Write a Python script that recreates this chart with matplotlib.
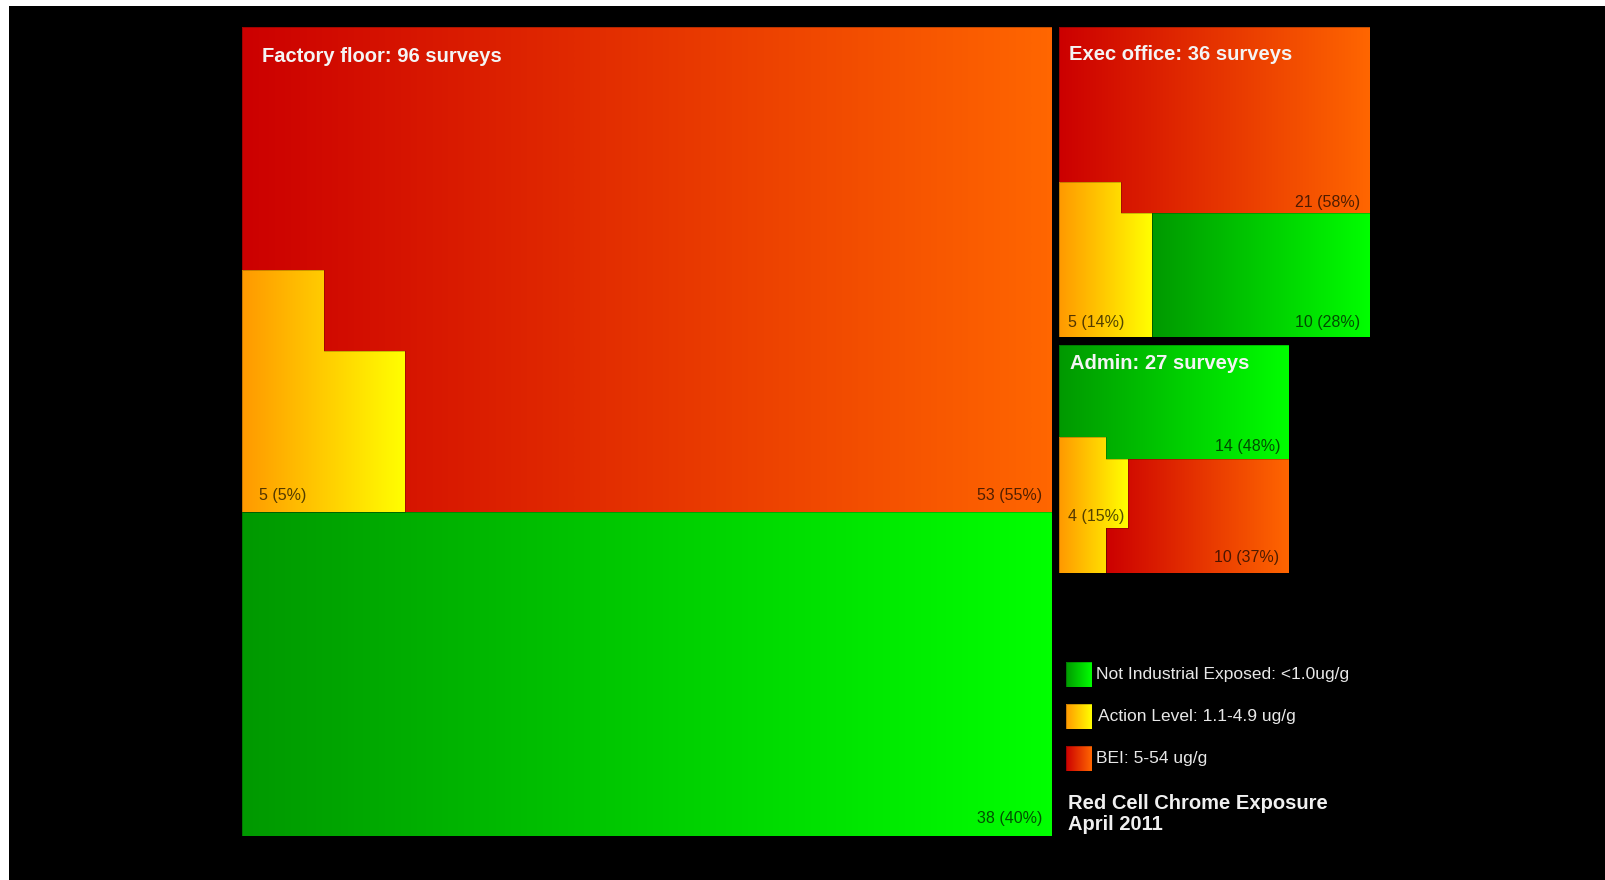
import numpy as np
import matplotlib
matplotlib.use("Agg")
import matplotlib.pyplot as plt
from matplotlib.patches import Rectangle, Polygon
from matplotlib.colors import LinearSegmentedColormap

plt.rcParams['font.family'] = ['Liberation Sans', 'DejaVu Sans']

# survey counts per work area
areas = ["Factory floor", "Exec office", "Admin"]
surveys = [96, 36, 27]
not_exposed = [38, 10, 14]
not_exposed_pct = [40, 28, 48]
action_level = [5, 5, 4]
action_level_pct = [5, 14, 15]
bei = [53, 21, 10]
bei_pct = [55, 58, 37]

legend_labels = ["Not Industrial Exposed: <1.0ug/g",
                 "Action Level: 1.1-4.9 ug/g",
                 "BEI: 5-54 ug/g"]
chart_title = "Red Cell Chrome Exposure\nApril 2011"

# gradients go dark (left) -> bright (right)
GRADIENTS = {
    "green": ("#009900", "#00ff00"),
    "yellow": ("#ff9900", "#ffff00"),
    "red": ("#cc0000", "#ff6600"),
}

W, H = 1606, 880

# panel boxes (x, y, w, h) on the canvas, top-left origin
panels = [(242, 27, 810, 809), (1059, 27, 311, 310), (1059, 345, 230, 228)]

# shapes inside each panel, in panel fractions
shapes = [
    {"red": [(0, 0), (1, 0), (1, 0.6), (0, 0.6)],
     "green": [(0, 0.6), (1, 0.6), (1, 1), (0, 1)],
     "yellow": [(0, 0.30), (0.101, 0.30), (0.101, 0.40), (0.201, 0.40),
                (0.201, 0.6), (0, 0.6)]},
    {"red": [(0, 0), (1, 0), (1, 0.6), (0, 0.6)],
     "green": [(0.299, 0.6), (1, 0.6), (1, 1), (0.299, 1)],
     "yellow": [(0, 0.5), (0.199, 0.5), (0.199, 0.6), (0.299, 0.6),
                (0.299, 1), (0, 1)]},
    {"green": [(0, 0), (1, 0), (1, 0.5), (0, 0.5)],
     "red": [(0.204, 0.5), (1, 0.5), (1, 1), (0.204, 1)],
     "yellow": [(0, 0.404), (0.204, 0.404), (0.204, 0.5), (0.30, 0.5),
                (0.30, 0.803), (0.204, 0.803), (0.204, 1), (0, 1)]},
]
draw_order = [["red", "green", "yellow"], ["red", "green", "yellow"],
              ["green", "red", "yellow"]]

# where the count labels sit (panel fractions) and how they align
label_spots = [
    {"red": (0.988, 0.579, "right"), "yellow": (0.021, 0.579, "left"),
     "green": (0.988, 0.978, "right")},
    {"red": (0.968, 0.565, "right"), "yellow": (0.029, 0.952, "left"),
     "green": (0.968, 0.952, "right")},
    {"green": (0.965, 0.447, "right"), "yellow": (0.039, 0.75, "left"),
     "red": (0.957, 0.934, "right")},
]
title_spots = [(0.025, 0.036), (0.032, 0.088), (0.048, 0.08)]

layer = [2.0]


def gradient_fill(ax, verts, colors):
    xs = [v[0] for v in verts]
    ys = [v[1] for v in verts]
    z = layer[0]
    layer[0] += 1
    patch = Polygon(verts, closed=True, facecolor="none",
                    edgecolor=(0, 0, 0, 0.22), lw=0.7, zorder=z + 0.5)
    ax.add_patch(patch)
    cmap = LinearSegmentedColormap.from_list("g", colors)
    im = ax.imshow(np.linspace(0, 1, 256).reshape(1, -1), cmap=cmap,
                   extent=(min(xs), max(xs), max(ys), min(ys)),
                   aspect="auto", interpolation="bilinear", zorder=z)
    im.set_clip_path(patch)


fig = plt.figure(figsize=(W / 100, H / 100), dpi=100, facecolor="white")
ax = fig.add_axes([0, 0, 1, 1])
ax.set_axis_off()
ax.add_patch(Rectangle((9, 6), W - 9, H - 6, facecolor="black", zorder=0))

counts = {"green": not_exposed, "yellow": action_level, "red": bei}
pcts = {"green": not_exposed_pct, "yellow": action_level_pct, "red": bei_pct}

for i, (px, py, pw, ph) in enumerate(panels):
    for cat in draw_order[i]:
        verts = [(px + fx * pw, py + fy * ph) for fx, fy in shapes[i][cat]]
        gradient_fill(ax, verts, GRADIENTS[cat])

for i, (px, py, pw, ph) in enumerate(panels):
    for cat, (fx, fy, ha) in label_spots[i].items():
        ax.text(px + fx * pw, py + fy * ph, f"{counts[cat][i]} ({pcts[cat][i]}%)",
                ha=ha, va="center", fontsize=11.5, color="black", alpha=0.68,
                zorder=50)
    tx, ty = title_spots[i]
    ax.text(px + tx * pw, py + ty * ph, f"{areas[i]}: {surveys[i]} surveys",
            ha="left", va="center", fontsize=14.5, fontweight="bold",
            color="#f4f4f4", zorder=50)

# legend swatches and labels
for k, (cat, lab) in enumerate(zip(["green", "yellow", "red"], legend_labels)):
    y0 = 662 + k * 42
    gradient_fill(ax, [(1066, y0), (1092, y0), (1092, y0 + 25), (1066, y0 + 25)],
                  GRADIENTS[cat])
    ax.text(1096 + (2 if cat == "yellow" else 0), y0 + 13, lab, ha="left",
            va="center", fontsize=12.5, color="#e8e8e8", zorder=50)

ax.text(1068, 814, chart_title, ha="left", va="center", fontsize=14.5,
        fontweight="bold", color="#f0f0f0", linespacing=1.1, zorder=50)

ax.set_xlim(0, W)
ax.set_ylim(H, 0)
fig.savefig("out.png", dpi=100, facecolor="white")
